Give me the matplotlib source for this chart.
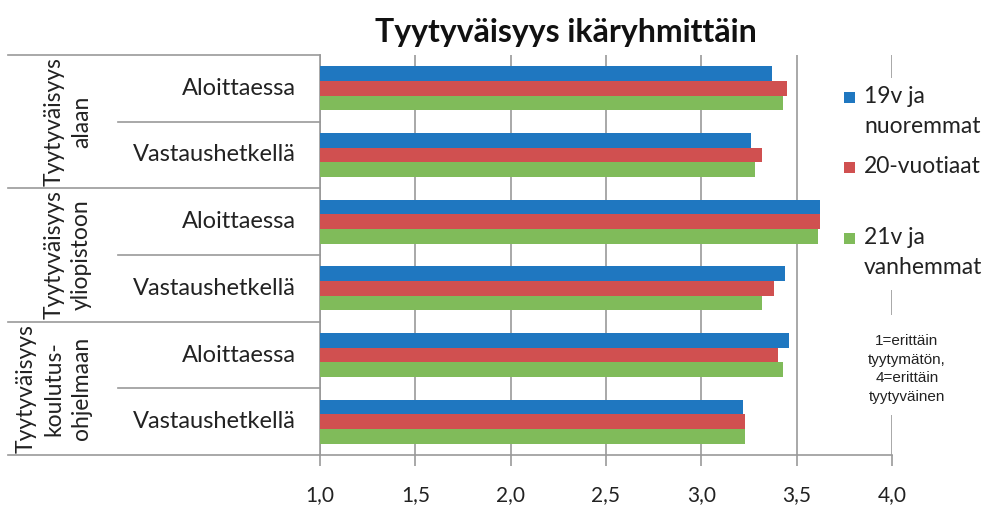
import matplotlib
matplotlib.use('Agg')
import matplotlib.pyplot as plt
from matplotlib.patches import Rectangle
import numpy as np

plt.rcParams['font.family'] = ['Lato', 'DejaVu Sans']

# ── DATA ──────────────────────────────
groups = ['Tyytyväisyys\nalaan', 'Tyytyväisyys\nyliopistoon', 'Tyytyväisyys\nkoulutus-\nohjelmaan']
subcats = ['Aloittaessa', 'Vastaushetkellä']
series = ['19v ja\nnuoremmat', '20-vuotiaat', '21v ja\nvanhemmat']

# top to bottom: alaan A, alaan V, yliopisto A, yliopisto V, koulutus A, koulutus V
young = [3.37, 3.26, 3.62, 3.44, 3.46, 3.22]
mid = [3.45, 3.32, 3.62, 3.38, 3.40, 3.23]
old = [3.43, 3.28, 3.61, 3.32, 3.43, 3.23]

ticks = [1.0, 1.5, 2.0, 2.5, 3.0, 3.5, 4.0]
colors = ['#1f77c0', '#d05050', '#80bb5a']
note = '1=erittäin\ntyytymätön,\n4=erittäin\ntyytyväinen'

# ── PLOT ──────────────────────────────
fig = plt.figure(figsize=(9.91, 5.08), dpi=100)
W, H = 991, 508
x0, x1, y0, y1 = 320, 892, 55, 455
ax = fig.add_axes([x0 / W, 1 - y1 / H, (x1 - x0) / W, (y1 - y0) / H])
pxu = (x1 - x0) / 3.0  # pixels per x unit

n = len(young)
pos = np.arange(n)[::-1]  # first category on top
bh = 0.22
for k, vals in enumerate([young, mid, old]):
    offs = (1 - k) * bh
    ax.barh(pos + offs, np.array(vals) - 1.0, left=1.0, height=bh,
            color=colors[k], zorder=3)

ax.set_xlim(1.0, 4.0)
ax.set_ylim(-0.5, n - 0.5)
ax.set_xticks(ticks)
ax.set_xticklabels([f'{t:.1f}'.replace('.', ',') for t in ticks], fontsize=15, color='#222222')
ax.set_yticks([])
ax.tick_params(axis='x', length=8, color='#999999', width=1.2, pad=14, direction='out')
ax.grid(axis='x', color='#999999', lw=1.2, zorder=0)
for s in ['top', 'right']:
    ax.spines[s].set_visible(False)
for s in ['left', 'bottom']:
    ax.spines[s].set_color('#999999')
    ax.spines[s].set_linewidth(1.2)

# category table on the left
for i in range(n + 1):
    yv = n - 0.5 - i
    xa = 8 if i % 2 == 0 else 118
    ax.plot([1.0 - (x0 - xa) / pxu, 1.0], [yv, yv], color='#999999', lw=1.2,
            clip_on=False, zorder=1)

for i in range(n):
    ax.text(1.0 - 24 / pxu, pos[i], subcats[i % 2], ha='right', va='center',
            fontsize=17, color='#222222')

for g, lab in enumerate(groups):
    yc = n - 1 - (2 * g + 0.5)
    ax.text(1.0 - (x0 - 92) / pxu, yc, lab, ha='right', va='center', rotation=90,
            fontsize=16.5, color='#222222', linespacing=1.4, multialignment='center')

fig.text(566 / W, 1 - 42 / H, 'Tyytyväisyys ikäryhmittäin', ha='center', va='baseline',
         fontsize=23, fontweight='bold', color='#111111')

# white areas covering the 4,0 gridline behind legend and note
fig.patches.append(Rectangle((835 / W, 1 - 290 / H), 150 / W, 212 / H,
                             transform=fig.transFigure, facecolor='white',
                             edgecolor='none', zorder=2))
fig.patches.append(Rectangle((860 / W, 1 - 415 / H), 100 / W, 100 / H,
                             transform=fig.transFigure, facecolor='white',
                             edgecolor='none', zorder=2))

# legend, one text per line so the square sits on the first line
base = [103, 173, 244]
for k, lab in enumerate(series):
    fig.patches.append(Rectangle((844 / W, 1 - base[k] / H), 11 / W, 11 / H,
                                 transform=fig.transFigure, facecolor=colors[k],
                                 edgecolor='none', zorder=3))
    for j, line in enumerate(lab.split('\n')):
        fig.text(864 / W, 1 - (base[k] + 30 * j) / H, line, ha='left', va='baseline',
                 fontsize=16.5, color='#222222', zorder=4)

fig.text(907 / W, 1 - 369 / H, note, ha='center', va='center', fontsize=11,
         family=['Liberation Sans', 'DejaVu Sans'], color='#222222', linespacing=1.4,
         zorder=4)

plt.savefig('out.png', dpi=100)
